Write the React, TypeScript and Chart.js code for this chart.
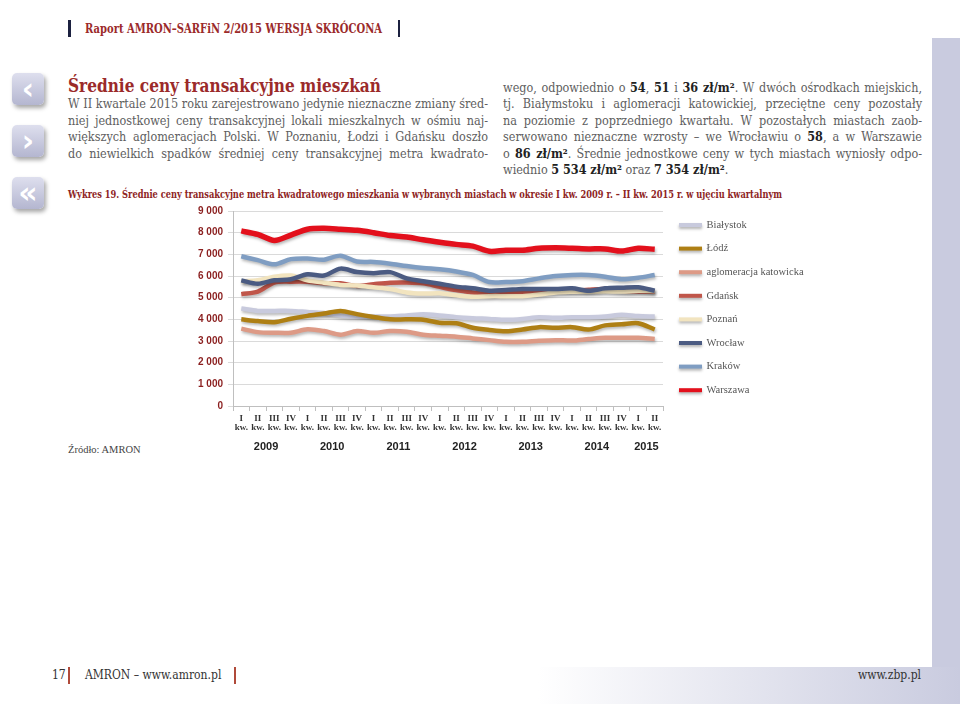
import React, { useEffect, useLayoutEffect, useRef } from 'react';
import { Chart, registerables } from 'chart.js';

Chart.register(...registerables);

// ---------- DATA ----------
const years = ['2009', '2010', '2011', '2012', '2013', '2014', '2015'];
const quartersPerYear = [4, 4, 4, 4, 4, 4, 2];
const quarterNames = ['I', 'II', 'III', 'IV'];
const quarterLabels: string[][] = [];
years.forEach((_, i) => {
  for (let q = 0; q < quartersPerYear[i]; q++) quarterLabels.push([quarterNames[q], 'kw.']);
});

const yMin = 0;
const yMax = 9000;
const yStep = 1000;

const cities = ['Białystok', 'Łódź', 'aglomeracja katowicka', 'Gdańsk', 'Poznań', 'Wrocław', 'Kraków', 'Warszawa'];

const bialystok = [4500, 4390, 4390, 4390, 4340, 4290, 4180, 4130, 4130, 4130, 4180, 4230, 4180, 4100, 4050, 4020, 3980, 4020, 4100, 4070, 4100, 4100, 4130, 4210, 4150, 4130];
const lodz = [4000, 3920, 3870, 4030, 4160, 4270, 4390, 4240, 4110, 4000, 4000, 3980, 3840, 3820, 3610, 3510, 3450, 3530, 3640, 3610, 3640, 3530, 3720, 3770, 3820, 3530];
const katowice = [3570, 3410, 3380, 3380, 3540, 3460, 3290, 3460, 3380, 3460, 3430, 3290, 3240, 3200, 3120, 3040, 2960, 2960, 3010, 3040, 3020, 3090, 3150, 3150, 3150, 3090];
const gdansk = [5160, 5280, 5700, 5740, 5740, 5660, 5660, 5540, 5620, 5690, 5700, 5660, 5500, 5350, 5240, 5150, 5200, 5240, 5280, 5320, 5320, 5370, 5400, 5320, 5280, 5270];
const poznan = [5760, 5800, 5970, 6020, 5800, 5690, 5590, 5560, 5480, 5400, 5240, 5190, 5200, 5110, 5040, 5070, 5070, 5070, 5150, 5240, 5270, 5280, 5300, 5280, 5320, 5300];
const wroclaw = [5800, 5640, 5800, 5850, 6080, 6020, 6340, 6180, 6130, 6180, 5890, 5760, 5640, 5510, 5430, 5320, 5350, 5400, 5400, 5400, 5430, 5320, 5430, 5460, 5480, 5320];
const krakow = [6910, 6730, 6540, 6780, 6810, 6750, 6940, 6670, 6650, 6570, 6460, 6370, 6310, 6210, 6050, 5720, 5720, 5760, 5890, 6000, 6050, 6050, 5970, 5850, 5920, 6050];
const warszawa = [8080, 7920, 7640, 7890, 8160, 8200, 8160, 8110, 8000, 7870, 7800, 7670, 7560, 7460, 7380, 7140, 7190, 7190, 7280, 7300, 7280, 7250, 7250, 7150, 7280, 7230];

const seriesValues = [bialystok, lodz, katowice, gdansk, poznan, wroclaw, krakow, warszawa];
const cityColors = ['#c8cadd', '#ae7f14', '#dd9a86', '#c0564a', '#f2e4bf', '#4b5b82', '#7f9dc2', '#e3101c'];
const cityWidths = [4.5, 4.5, 4.5, 4.5, 4.5, 4.5, 4.5, 5.5];

// ---------- STYLES ----------
const SERIF = '"DejaVu Serif Condensed", "DejaVu Serif", serif';
const BODY_COLOR = '#5e5e60';
const RED = '#9b2a2a';

function fmt(v: number) {
  const s = String(v);
  return s.length > 3 ? s.slice(0, s.length - 3) + ' ' + s.slice(-3) : s;
}

const shadowPlugin = {
  id: 'lineShadow',
  beforeDatasetsDraw(chart: any) {
    const c = chart.ctx;
    c.save();
    c.shadowColor = 'rgba(0,0,0,0.28)';
    c.shadowBlur = 3;
    c.shadowOffsetX = 1;
    c.shadowOffsetY = 2;
  },
  afterDatasetsDraw(chart: any) {
    chart.ctx.restore();
  },
};

const yearPlugin = {
  id: 'yearLabels',
  afterDraw(chart: any) {
    const xs = chart.scales.x;
    const ctx = chart.ctx;
    ctx.save();
    ctx.font = 'bold 11px "Liberation Sans", Arial, sans-serif';
    ctx.fillStyle = '#222';
    ctx.textAlign = 'center';
    ctx.textBaseline = 'middle';
    let idx = 0;
    years.forEach((y, i) => {
      const n = quartersPerYear[i];
      const a = xs.getPixelForValue(idx);
      const b = xs.getPixelForValue(idx + n - 1);
      ctx.fillText(y, (a + b) / 2, xs.top + 41);
      idx += n;
    });
    ctx.restore();
  },
};

const legendPlugin = {
  id: 'sideLegend',
  afterDraw(chart: any) {
    const ctx = chart.ctx;
    const area = chart.chartArea;
    const x0 = area.right + 16;
    chart.data.datasets.forEach((ds: any, i: number) => {
      const y = area.top + 14 + i * 23.6;
      ctx.save();
      ctx.shadowColor = 'rgba(0,0,0,0.3)';
      ctx.shadowBlur = 3;
      ctx.shadowOffsetY = 2;
      ctx.strokeStyle = ds.borderColor;
      ctx.lineWidth = 4;
      ctx.beginPath();
      ctx.moveTo(x0, y);
      ctx.lineTo(x0 + 23, y);
      ctx.stroke();
      ctx.restore();
      ctx.save();
      ctx.fillStyle = '#555';
      ctx.font = '10.5px "Liberation Serif", serif';
      ctx.textBaseline = 'middle';
      ctx.textAlign = 'left';
      ctx.fillText(ds.label, x0 + 27.5, y);
      ctx.restore();
    });
  },
};

function LineChart() {
  const ref = useRef<HTMLCanvasElement>(null);
  useEffect(() => {
    if (!ref.current) return;
    const n = cities.length;
    const chart = new Chart(ref.current, {
      type: 'line',
      data: {
        labels: quarterLabels,
        datasets: cities.map((c, i) => ({
          label: c,
          data: seriesValues[i],
          borderColor: cityColors[i],
          backgroundColor: cityColors[i],
          borderWidth: cityWidths[i],
          pointRadius: 0,
          tension: 0.3,
          fill: false,
          order: n - i,
        })),
      },
      options: {
        animation: false,
        responsive: false,
        maintainAspectRatio: false,
        layout: { padding: { left: 0, top: 11, right: 167, bottom: 4 } },
        plugins: { legend: { display: false }, tooltip: { enabled: false } },
        scales: {
          x: {
            type: 'category',
            offset: true,
            grid: { display: true, drawOnChartArea: false, offset: true, tickLength: 5, color: '#bfbfbf' },
            border: { color: '#bfbfbf' },
            ticks: {
              autoSkip: false,
              maxRotation: 0,
              minRotation: 0,
              padding: 3,
              color: '#333',
              font: { family: '"Liberation Serif", serif', size: 9, weight: 'bold', lineHeight: 1.0 },
            },
            afterFit: (s: any) => { s.height = 50; },
          },
          y: {
            min: yMin,
            max: yMax,
            grid: { color: '#dadada', tickLength: 5 },
            border: { color: '#bfbfbf' },
            ticks: {
              stepSize: yStep,
              padding: 5,
              color: '#8b1f1f',
              font: { family: '"Liberation Sans", Arial, sans-serif', size: 10, weight: 'bold' },
              callback: (v: any) => fmt(Number(v)),
            },
            afterFit: (s: any) => { s.width = 83; },
          },
        },
      } as any,
      plugins: [shadowPlugin, yearPlugin, legendPlugin],
    });
    return () => chart.destroy();
  }, []);
  return (
    <canvas
      ref={ref}
      width={680}
      height={260}
      style={{ position: 'absolute', left: 150, top: 200, width: 680, height: 260 }}
    />
  );
}

function Fit({ width, style, children }: { width: number; style: React.CSSProperties; children: React.ReactNode }) {
  const ref = useRef<HTMLSpanElement>(null);
  useLayoutEffect(() => {
    const el = ref.current;
    if (!el) return;
    el.style.transform = 'none';
    const w = el.getBoundingClientRect().width;
    if (w > 0) el.style.transform = `scaleX(${width / w})`;
  }, [width]);
  return (
    <span ref={ref} style={{ position: 'absolute', whiteSpace: 'nowrap', transformOrigin: '0 50%', ...style }}>
      {children}
    </span>
  );
}

function JLine({ width, left, top, justify = true, children }: { width: number; left: number; top: number; justify?: boolean; children: React.ReactNode }) {
  const ref = useRef<HTMLSpanElement>(null);
  useLayoutEffect(() => {
    const el = ref.current;
    if (!el || !justify) return;
    el.style.wordSpacing = '0px';
    const w = el.getBoundingClientRect().width;
    const spaces = ((el.textContent || '').match(/ /g) || []).length;
    if (spaces > 0) el.style.wordSpacing = `${(width - w) / spaces}px`;
  }, [width, justify]);
  return (
    <span
      ref={ref}
      style={{
        position: 'absolute',
        left,
        top,
        whiteSpace: 'nowrap',
        fontFamily: SERIF,
        fontStretch: 'condensed',
        fontSize: 12.5,
        lineHeight: '16px',
        color: BODY_COLOR,
      }}
    >
      {children}
    </span>
  );
}

const B = ({ children }: { children: React.ReactNode }) => (
  <b style={{ color: '#222', fontWeight: 900 }}>{children}</b>
);

const leftLines = [
  'W II kwartale 2015 roku zarejestrowano jedynie nieznaczne zmiany śred-',
  'niej jednostkowej ceny transakcyjnej lokali mieszkalnych w ośmiu naj-',
  'większych aglomeracjach Polski. W Poznaniu, Łodzi i Gdańsku doszło',
  'do niewielkich spadków średniej ceny transakcyjnej metra kwadrato-',
];

export default function App() {
  const lineY = (k: number) => 88 + 16.4 * k - 8;
  const LX = 68;
  const LW = 420;
  const RX = 503;
  const RW = 419;
  return (
    <div
      style={{
        position: 'fixed',
        left: 0,
        top: 0,
        width: 960,
        height: 704,
        background: '#fff',
        overflow: 'hidden',
        fontFamily: SERIF,
      }}
    >
      {/* decorative side strip and footer gradient */}
      <div style={{ position: 'absolute', left: 932, top: 38, width: 28, height: 629, background: '#c9cbdf' }} />
      <div
        style={{
          position: 'absolute',
          left: 0,
          top: 667,
          width: 960,
          height: 37,
          background: 'linear-gradient(to right, #ffffff 0%, #ffffff 56%, #c9cbdf 100%)',
        }}
      />

      {/* header */}
      <div style={{ position: 'absolute', left: 68, top: 20, width: 2.5, height: 17, background: '#1c2140' }} />
      <div style={{ position: 'absolute', left: 397.5, top: 20, width: 2.5, height: 17, background: '#1c2140' }} />
      <Fit
        width={297}
        style={{ left: 85, top: 22, fontSize: 12.5, lineHeight: '13px', fontWeight: 'bold', color: RED, fontFamily: SERIF, fontStretch: 'condensed' }}
      >
        Raport AMRON–SARFiN 2/2015 WERSJA SKRÓCONA
      </Fit>

      {/* nav icons */}
      {[
        ['‹', 73],
        ['›', 125],
        ['«', 177],
      ].map(([g, t]) => (
        <div
          key={String(t)}
          style={{
            position: 'absolute',
            left: 12,
            top: t as number,
            width: 32,
            height: 32,
            borderRadius: 5,
            background: 'linear-gradient(#dedfee, #b4b6d0)',
            boxShadow: '2px 3px 4px rgba(0,0,0,0.35)',
            color: '#fff',
            fontSize: 30,
            fontWeight: 'bold',
            lineHeight: '31px',
            textAlign: 'center',
            fontFamily: '"DejaVu Sans", sans-serif',
          }}
        >
          {g as string}
        </div>
      ))}

      {/* section title */}
      <Fit
        width={313}
        style={{ left: LX, top: 75, fontSize: 19, lineHeight: '20px', fontWeight: 'bold', color: RED, fontFamily: SERIF, fontStretch: 'condensed' }}
      >
        Średnie ceny transakcyjne mieszkań
      </Fit>

      {/* left column */}
      {leftLines.map((t, i) => (
        <JLine key={i} width={LW} left={LX} top={lineY(i + 1)}>
          {t}
        </JLine>
      ))}

      {/* right column */}
      <JLine width={RW} left={RX} top={lineY(0)}>
        wego, odpowiednio o <B>54</B>, <B>51</B> i <B>36 zł/m²</B>. W dwóch ośrodkach miejskich,
      </JLine>
      <JLine width={RW} left={RX} top={lineY(1)}>
        tj. Białymstoku i aglomeracji katowickiej, przeciętne ceny pozostały
      </JLine>
      <JLine width={RW} left={RX} top={lineY(2)}>
        na poziomie z poprzedniego kwartału. W pozostałych miastach zaob-
      </JLine>
      <JLine width={RW} left={RX} top={lineY(3)}>
        serwowano nieznaczne wzrosty – we Wrocławiu o <B>58</B>, a w Warszawie
      </JLine>
      <JLine width={RW} left={RX} top={lineY(4)}>
        o <B>86 zł/m²</B>. Średnie jednostkowe ceny w tych miastach wyniosły odpo-
      </JLine>
      <JLine width={RW} left={RX} top={lineY(5)} justify={false}>
        wiednio <B>5&nbsp;534 zł/m²</B> oraz <B>7&nbsp;354 zł/m²</B>.
      </JLine>

      {/* chart title */}
      <Fit
        width={714}
        style={{ left: LX, top: 189, fontSize: 11, lineHeight: '12px', fontWeight: 'bold', color: '#8e2424', fontFamily: SERIF, fontStretch: 'condensed' }}
      >
        Wykres 19. Średnie ceny transakcyjne metra kwadratowego mieszkania w wybranych miastach w okresie I kw. 2009 r. – II kw. 2015 r. w ujęciu kwartalnym
      </Fit>

      <LineChart />

      {/* source */}
      <span
        style={{ position: 'absolute', left: LX, top: 444, fontSize: 10.5, lineHeight: '12px', color: '#444', fontFamily: '"Liberation Serif", serif' }}
      >
        Źródło: AMRON
      </span>

      {/* footer */}
      <span style={{ position: 'absolute', left: 52, top: 668, fontSize: 12, lineHeight: '14px', color: '#333', fontFamily: SERIF, fontStretch: 'condensed' }}>17</span>
      <div style={{ position: 'absolute', left: 68, top: 667, width: 1.5, height: 17, background: '#b04a3a' }} />
      <span style={{ position: 'absolute', left: 85, top: 668, fontSize: 12, lineHeight: '14px', color: '#333', fontFamily: SERIF, fontStretch: 'condensed' }}>
        AMRON – www.amron.pl
      </span>
      <div style={{ position: 'absolute', left: 234, top: 667, width: 1.5, height: 17, background: '#b04a3a' }} />
      <span style={{ position: 'absolute', left: 858, top: 668, fontSize: 12, lineHeight: '14px', color: '#333', fontFamily: SERIF, fontStretch: 'condensed' }}>
        www.zbp.pl
      </span>
    </div>
  );
}
